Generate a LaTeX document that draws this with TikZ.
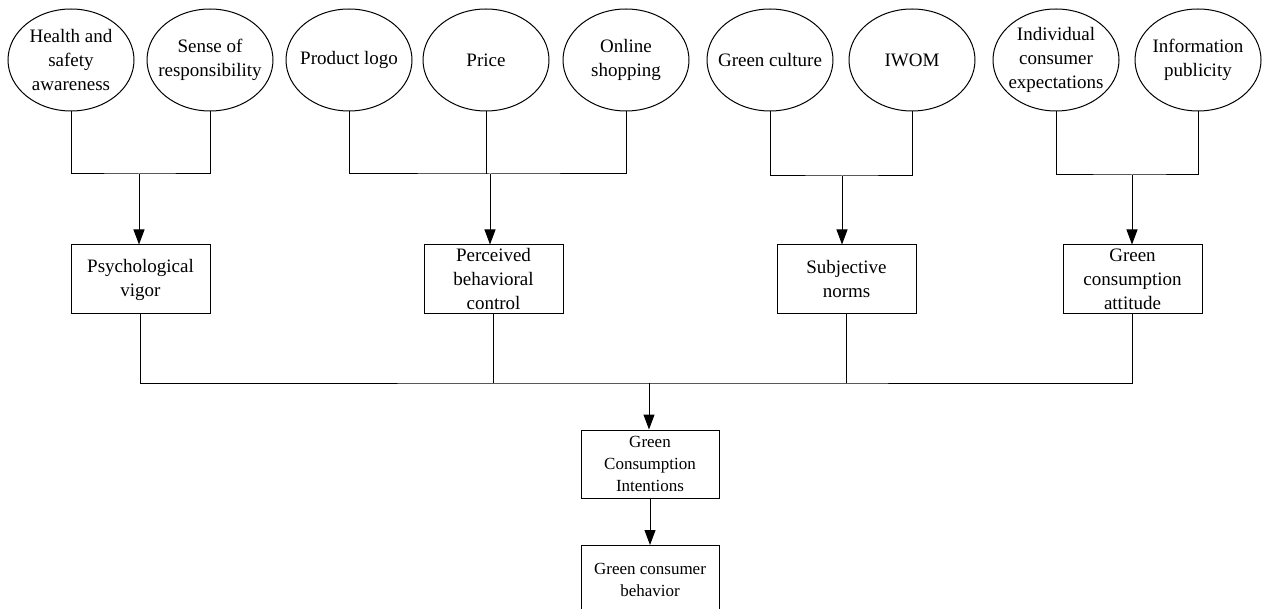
\documentclass[tikz,border=0pt]{standalone}
\usepackage{fontspec}
\setmainfont{Liberation Serif}
\usetikzlibrary{arrows.meta,shapes.geometric}
\begin{document}
\begin{tikzpicture}[x=1pt,y=-1pt,
  oval/.style={ellipse,draw,line width=1pt,minimum width=126pt,minimum height=102pt,inner sep=0pt},
  otext/.style={align=center,font=\fontsize{19}{24}\selectfont,inner sep=0pt},
  box/.style={rectangle,draw,line width=1pt,minimum width=139pt,minimum height=69pt,inner sep=0pt,align=center,font=\fontsize{19}{24}\selectfont},
  sbox/.style={box,minimum width=138pt,minimum height=68pt,font=\fontsize{17}{22}\selectfont},
  link/.style={line width=1pt},
  arr/.style={line width=1pt,-{Triangle[length=15pt,width=11pt]}}]
\useasboundingbox (0,0) rectangle (1263,609);

% ellipses
\node[oval,label={[otext]center:Health and\\safety\\awareness}] (e1) at (71,60) {};
\node[oval,label={[otext]center:Sense of\\responsibility}] (e2) at (210,60) {};
\node[oval,label={[otext]center:Product logo}] (e3) at (349,60) {};
\node[oval,label={[otext]center:Price}] (e4) at (486,60) {};
\node[oval,label={[otext]center:Online\\shopping}] (e5) at (626,60) {};
\node[oval,label={[otext]center:Green culture}] (e6) at (770,60) {};
\node[oval,label={[otext]center:IWOM}] (e7) at (912,60) {};
\node[oval,label={[otext]center:Individual\\consumer\\expectations}] (e8) at (1056,60) {};
\node[oval,label={[otext]center:Information\\publicity}] (e9) at (1198,60) {};

% middle boxes
\node[box] (b1) at (140.5,279.5) {Psychological\\vigor};
\node[box] (b2) at (493.5,279.5) {Perceived\\behavioral\\control};
\node[box] (b3) at (846.5,279.5) {Subjective\\norms};
\node[box] (b4) at (1132.5,279.5) {Green\\consumption\\attitude};

% bottom boxes
\node[sbox] (c1) at (650,464) {Green\\Consumption\\Intentions};
\node[sbox] (c2) at (650,579.5) {Green consumer\\behavior};

% junctions
\coordinate (j1) at (139,174);
\coordinate (j2) at (490,174);
\coordinate (j3) at (842,176);
\coordinate (j4) at (1132,175);
\coordinate (k) at (649,383);

% group connectors
\draw[link] (e1.south) |- (j1) -| (e2.south);
\draw[arr] (j1) -- (j1 |- b1.north);

\draw[link] (e3.south) |- (j2) -| (e5.south);
\draw[link] (e4.south) -- (e4.south |- j2);
\draw[arr] (j2) -- (j2 |- b2.north);

\draw[link] (e6.south) |- (j3) -| (e7.south);
\draw[arr] (j3) -- (j3 |- b3.north);

\draw[link] (e8.south) |- (j4) -| (e9.south);
\draw[arr] (j4) -- (j4 |- b4.north);

% bottom collection
\draw[link] (b1.south) |- (k) -| (b4.south);
\draw[link] (b2.south) -- (b2.south |- k);
\draw[link] (b3.south) -- (b3.south |- k);
\draw[arr] (k) -- (k |- c1.north);
\draw[arr] (c1.south) -- (c2.north);
\end{tikzpicture}
\end{document}
